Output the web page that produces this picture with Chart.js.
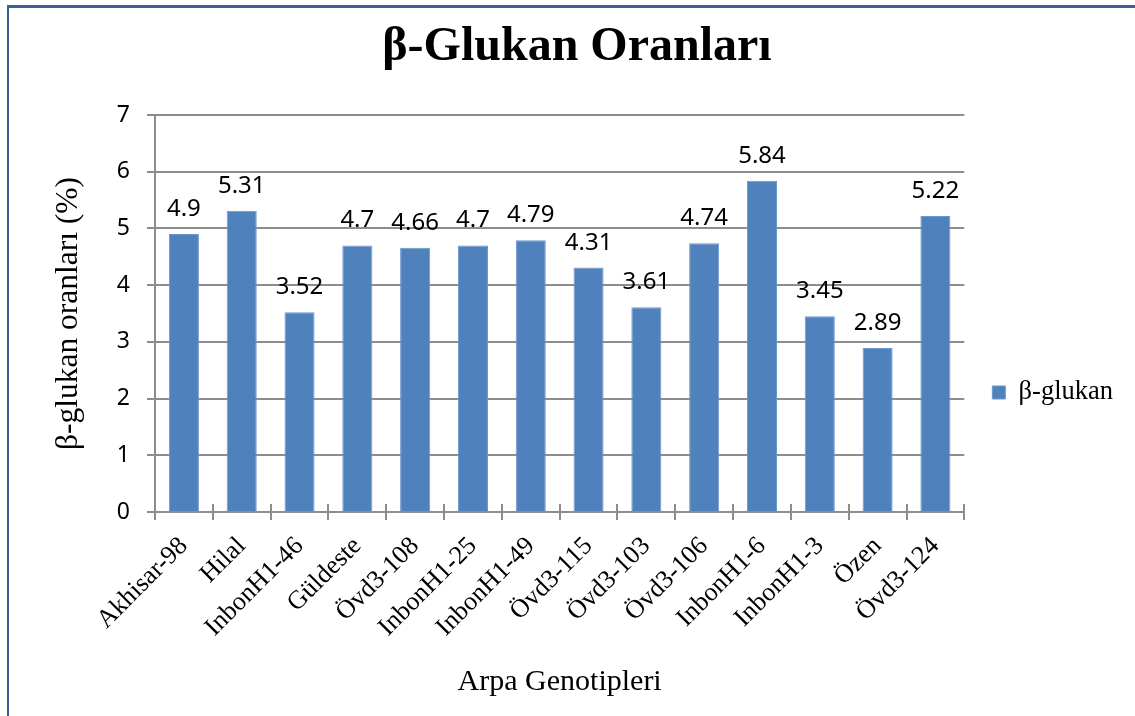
<!DOCTYPE html>
<html>
<head>
<meta charset="utf-8">
<script src="https://cdn.jsdelivr.net/npm/chart.js@4.4.1/dist/chart.umd.min.js"></script>
<style>
  html, body { margin: 0; padding: 0; background: #fff; overflow: hidden; }
  #wrap { position: relative; width: 1135px; height: 716px; }
  #frameTop { position: absolute; left: 7px; top: 5px; width: 1128px; height: 3px; background: #3c6196; }
  #frameLeft { position: absolute; left: 7px; top: 5px; width: 2px; height: 711px; background: #3c6196; }
  canvas { position: absolute; left: 0; top: 0; }
</style>
</head>
<body>
<div id="wrap">
  <canvas id="chart" width="1135" height="716"></canvas>
  <div id="frameTop"></div>
  <div id="frameLeft"></div>
</div>
<script>
// β-glukan oranları (%) — arpa genotipleri
const genotypes = [
  'Akhisar-98', 'Hilal', 'InbonH1-46', 'Güldeste', 'Övd3-108', 'InbonH1-25', 'InbonH1-49',
  'Övd3-115', 'Övd3-103', 'Övd3-106', 'InbonH1-6', 'InbonH1-3', 'Özen', 'Övd3-124'
];
const betaGlucan = [4.9, 5.31, 3.52, 4.7, 4.66, 4.7, 4.79, 4.31, 3.61, 4.74, 5.84, 3.45, 2.89, 5.22];
const yTicks = [0, 1, 2, 3, 4, 5, 6, 7];

const SERIF = '"Liberation Serif", "Times New Roman", serif';
const SANS = '"Noto Sans", "Open Sans", sans-serif';
const GRID = '#8d8d8d';

/* ── bar üstü değer etiketleri ── */
const valueLabels = {
  id: 'valueLabels',
  afterDatasetsDraw(chart) {
    const { ctx } = chart;
    const meta = chart.getDatasetMeta(0);
    ctx.save();
    ctx.font = '24px ' + SANS;
    ctx.fillStyle = '#000';
    ctx.textAlign = 'center';
    ctx.textBaseline = 'alphabetic';
    meta.data.forEach((bar, i) => {
      ctx.fillText(String(betaGlucan[i]), bar.x, bar.y - 18);
    });
    ctx.restore();
  },
};

/* ── x ekseni çentikleri eksenin üstüne de taşsın (Excel "cross") ── */
const crossTicks = {
  id: 'crossTicks',
  afterDraw(chart) {
    const { ctx, chartArea } = chart;
    const x = chart.scales.x;
    const step = x.getPixelForValue(1) - x.getPixelForValue(0);
    ctx.save();
    ctx.strokeStyle = GRID;
    ctx.lineWidth = 2;
    for (let i = 0; i <= genotypes.length; i++) {
      const px = Math.round(x.getPixelForValue(i) - step / 2);
      ctx.beginPath();
      ctx.moveTo(px, chartArea.bottom - 8);
      ctx.lineTo(px, chartArea.bottom);
      ctx.stroke();
    }
    ctx.restore();
  },
};

new Chart(document.getElementById('chart'), {
  type: 'bar',
  data: {
    labels: genotypes,
    datasets: [{
      label: 'β-glukan',
      data: betaGlucan,
      backgroundColor: '#4f81bd',
      borderColor: '#6d97cc',
      borderWidth: 1,
      barPercentage: 0.52,
      categoryPercentage: 1,
    }],
  },
  options: {
    responsive: false,
    animation: false,
    events: [],
    layout: { padding: { left: 31, right: 12, top: 0, bottom: 0 } },
    plugins: {
      title: {
        display: true,
        text: 'β-Glukan Oranları',
        color: '#000',
        font: { family: SERIF, size: 48, weight: 'bold', lineHeight: 1.2 },
        padding: { top: 19.2, bottom: 38.2 },
      },
      legend: {
        display: true,
        position: 'right',
        title: { display: true, text: '', font: { size: 1, lineHeight: 1 }, padding: { top: 68, bottom: 0 } },
        labels: {
          color: '#000',
          boxWidth: 13,
          boxHeight: 13,
          padding: 28,
          font: { family: SERIF, size: 26.5 },
        },
      },
      tooltip: { enabled: false },
    },
    scales: {
      x: {
        grid: { drawOnChartArea: false, tickLength: 8, color: GRID, lineWidth: 2 },
        border: { display: true, color: GRID, width: 2 },
        ticks: {
          color: '#000',
          minRotation: 45,
          maxRotation: 45,
          autoSkip: false,
          padding: 11,
          font: { family: SERIF, size: 26 },
        },
        title: {
          display: true,
          text: 'Arpa Genotipleri',
          color: '#000',
          font: { family: SERIF, size: 30, lineHeight: 1.2 },
          padding: { top: 0, bottom: 16 },
        },
        afterFit(scale) { scale.height = 204; },
      },
      y: {
        min: 0,
        max: 7,
        afterBuildTicks(scale) { scale.ticks = yTicks.map((v) => ({ value: v })); },
        grid: { color: GRID, lineWidth: 2, tickLength: 8 },
        border: { display: true, color: GRID, width: 2 },
        ticks: {
          color: '#000',
          padding: 17,
          font: { family: SANS, size: 23 },
        },
        title: {
          display: true,
          text: 'β-glukan oranları (%)',
          color: '#000',
          font: { family: SERIF, size: 31.5, lineHeight: 1.2 },
          padding: { top: 18.7, bottom: 0 },
        },
        afterFit(scale) { scale.width = 124; },
      },
    },
  },
  plugins: [valueLabels, crossTicks],
});
</script>
</body>
</html>
